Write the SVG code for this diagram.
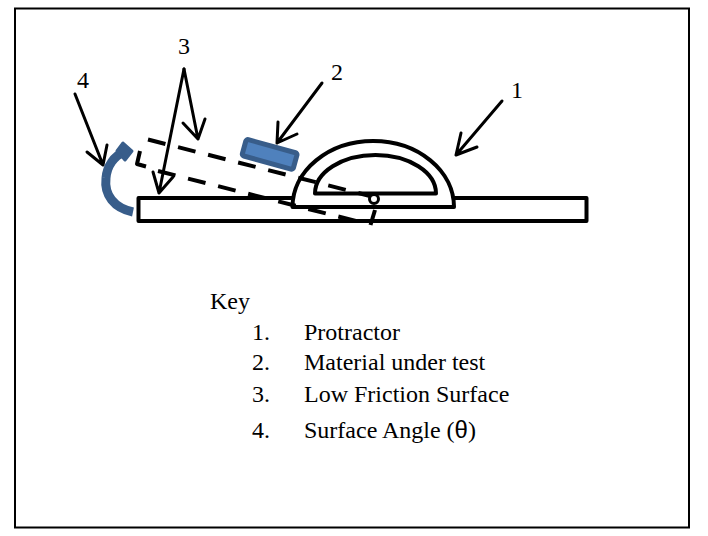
<svg xmlns="http://www.w3.org/2000/svg" width="708" height="536" viewBox="0 0 708 536">
<style>
.k{fill:none;stroke:#000;stroke-linejoin:round}
.s{stroke-width:4}
.a{stroke-width:3;stroke-linecap:round}
.d{stroke-width:4;stroke-dasharray:18 13}
text{font-family:"Liberation Serif","Times New Roman",serif;font-size:24px;fill:#000}
</style>
<rect width="708" height="536" fill="#fff"/>
<rect id="frame" x="15" y="8.500" width="674" height="519" fill="#fff" stroke="#000" stroke-width="2"/>
<g id="surface"><rect class="k s" x="138.500" y="198" width="448" height="23"/></g>
<g id="protractor">
<path d="M292.500 207A80.750 66 0 0 1 454 207Z" fill="#fff" stroke="#000" stroke-width="4" stroke-linejoin="round"/>
<path class="k s" d="M315 193.500A60.500 38.500 0 0 1 436 193.500Z"/>
</g>
<g id="tilted-surface">
<path class="k d" d="M148 139.500L370 196"/>
<path class="k d" d="M158 171L360 222"/>
<path class="k s" d="M140 151L137 164L146 166.500"/>
<path class="k s" d="M375 210L370.500 225"/>
</g>
<g id="pivot"><circle cx="374" cy="199" r="4.500" fill="#fff" stroke="#000" stroke-width="3"/></g>
<g id="material"><rect x="243" y="146" width="53" height="17" rx="2" transform="rotate(15.500 270 155)" fill="#4f81bd" stroke="#385d8a" stroke-width="5"/></g>
<g id="rotation">
<path d="M133 212C114 208 104 195 106 178C107 166 114 156 124 152" fill="none" stroke="#385d8a" stroke-width="9"/>
<path d="M123 143L132 151L125 160L117 151Z" fill="#385d8a" stroke="#385d8a" stroke-width="3" stroke-linejoin="round"/>
</g>
<g id="connectors">
<path class="k a" d="M75 94L103 165M87 152L103 165L107 145"/>
<path class="k a" d="M184 69L159 193M153 172L159 193L173 177"/>
<path class="k a" d="M184 69L198 139M183 123L198 139L205 119"/>
<path class="k a" d="M322 83L277 143M278 122L277 143L297 134"/>
<path class="k a" d="M502 101L456 155M461 133L456 155L477 147"/>
</g>
<g id="labels">
<text x="511" y="98">1</text>
<text x="331" y="80">2</text>
<text x="178" y="54">3</text>
<text x="77" y="88">4</text>
</g>
<g id="key">
<text x="210" y="309">Key</text>
<text x="252" y="340">1.</text><text x="304" y="340">Protractor</text>
<text x="252" y="370">2.</text><text x="304" y="370">Material under test</text>
<text x="252" y="402">3.</text><text x="304" y="402">Low Friction Surface</text>
<text x="252" y="438">4.</text><text x="304" y="438">Surface Angle (<tspan font-family="Liberation Sans, Arial, sans-serif">θ</tspan>)</text>
</g>
</svg>
